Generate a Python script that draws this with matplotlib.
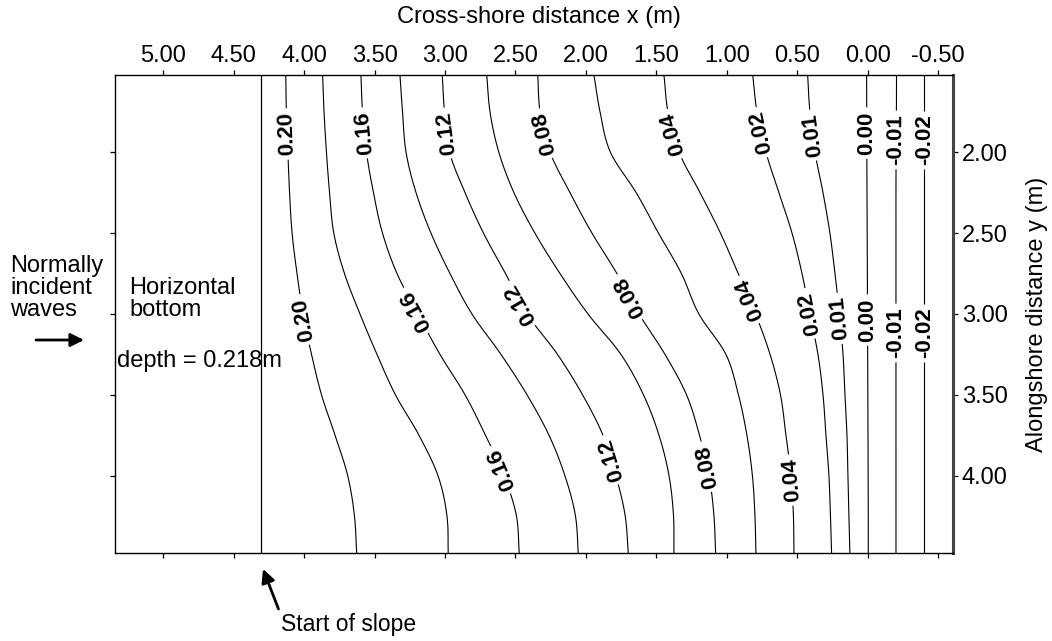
import numpy as np
import matplotlib.pyplot as plt

plt.rcParams["font.family"] = ["Liberation Sans", "DejaVu Sans"]
plt.rcParams["contour.negative_linestyle"] = "solid"

W, H = 1052, 641

# alongshore rows (m) at which the contour crossings were taken
Y_ROWS = [1.524, 1.75, 2.00, 2.25, 2.50, 2.75, 3.00, 3.25, 3.50, 3.75, 4.00, 4.25, 4.48]

# cross-shore position (m) of each depth contour on those rows
X_D020 = [4.131, 4.127, 4.116, 4.104, 4.086, 4.051, 4.008, 3.948, 3.877, 3.781, 3.691, 3.643, 3.627]
X_D018 = [3.869, 3.859, 3.842, 3.820, 3.790, 3.714, 3.604, 3.483, 3.352, 3.185, 3.050, 2.986, 2.977]
X_D016 = [3.597, 3.586, 3.558, 3.508, 3.444, 3.341, 3.192, 3.036, 2.858, 2.713, 2.582, 2.493, 2.473]
X_D014 = [3.320, 3.302, 3.277, 3.206, 3.100, 2.965, 2.809, 2.603, 2.418, 2.262, 2.149, 2.074, 2.054]
X_D012 = [3.020, 3.004, 2.968, 2.858, 2.727, 2.571, 2.418, 2.202, 2.024, 1.879, 1.787, 1.721, 1.699]
X_D010 = [2.704, 2.681, 2.618, 2.511, 2.362, 2.184, 1.985, 1.751, 1.591, 1.481, 1.410, 1.378, 1.375]
X_D008 = [2.342, 2.326, 2.255, 2.113, 1.957, 1.780, 1.623, 1.439, 1.286, 1.194, 1.126, 1.091, 1.079]
X_D006 = [1.943, 1.900, 1.826, 1.643, 1.485, 1.322, 1.198, 1.006, 0.917, 0.857, 0.818, 0.800, 0.793]
X_D004 = [1.446, 1.418, 1.339, 1.190, 1.045, 0.919, 0.796, 0.693, 0.619, 0.580, 0.544, 0.527, 0.523]
X_D002 = [0.816, 0.786, 0.722, 0.630, 0.537, 0.466, 0.410, 0.353, 0.317, 0.296, 0.275, 0.264, 0.256]
X_D001 = [0.426, 0.410, 0.374, 0.317, 0.268, 0.232, 0.200, 0.175, 0.161, 0.147, 0.140, 0.133, 0.126]
X_D000 = [0.007, 0.006, 0.005, 0.004, 0.003, 0.002, 0.001, 0.000, -0.001, -0.002, -0.003, -0.004, -0.004]
X_DM01 = [-0.205, -0.204, -0.202, -0.201, -0.201, -0.201, -0.201, -0.201, -0.201, -0.201, -0.201, -0.201, -0.201]
X_DM02 = [-0.402, -0.402, -0.402, -0.402, -0.402, -0.402, -0.402, -0.402, -0.402, -0.402, -0.402, -0.402, -0.402]

LEVELS = [0.20, 0.18, 0.16, 0.14, 0.12, 0.10, 0.08, 0.06, 0.04, 0.02, 0.01, 0.00, -0.01, -0.02]
LABELLED = [0.20, 0.16, 0.12, 0.08, 0.04, 0.02, 0.01, 0.00, -0.01, -0.02]

# where the inline labels sit (x, y)
LABEL_POS = [
    (4.124, 1.887), (4.018, 3.037),
    (3.580, 1.881), (3.201, 2.975), (2.610, 3.965),
    (2.977, 1.881), (2.456, 2.934), (1.829, 3.903),
    (2.279, 1.881), (1.687, 2.893), (1.143, 3.944),
    (1.356, 1.881), (0.848, 2.913), (0.528, 4.026),
    (0.741, 1.874), (0.410, 2.996),
    (0.386, 1.893), (0.197, 3.027),
    (0.003, 1.881), (-0.002, 3.037),
    (-0.201, 1.924), (-0.201, 3.117),
    (-0.402, 1.924), (-0.402, 3.117),
]

FLAT_DEPTH = 0.218
SLOPE_START = 4.31
SHORE_EDGE_DEPTH = -0.03
X_MIN, X_MAX = -0.608, 5.343
Y_TOP, Y_BOTTOM = 1.524, 4.48

X_TICKS = [5.0, 4.5, 4.0, 3.5, 3.0, 2.5, 2.0, 1.5, 1.0, 0.5, 0.0, -0.5]
X_TICK_LABELS = ["5.00", "4.50", "4.00", "3.50", "3.00", "2.50", "2.00",
                 "1.50", "1.00", "0.50", "0.00", "-0.50"]
Y_TICKS = [2.0, 2.5, 3.0, 3.5, 4.0]
Y_TICK_LABELS = ["2.00", "2.50", "3.00", "3.50", "4.00"]

FONT = 17


def fx(px):
    return px / W


def fy(py):
    return 1 - py / H


def hermite(ys, xs, yf):
    # smooth cubic through the crossings so the contours don't kink at each row
    ys = np.asarray(ys)
    xs = np.asarray(xs)
    m = np.gradient(xs, ys)
    i = np.clip(np.searchsorted(ys, yf) - 1, 0, len(ys) - 2)
    h = ys[i + 1] - ys[i]
    t = (yf - ys[i]) / h
    h00 = 2 * t**3 - 3 * t**2 + 1
    h10 = t**3 - 2 * t**2 + t
    h01 = -2 * t**3 + 3 * t**2
    h11 = t**3 - t**2
    return h00 * xs[i] + h10 * h * m[i] + h01 * xs[i + 1] + h11 * h * m[i + 1]


def build_depth_grid(xg, yg):
    level_x = [X_D020, X_D018, X_D016, X_D014, X_D012, X_D010, X_D008,
               X_D006, X_D004, X_D002, X_D001, X_D000, X_DM01, X_DM02]
    cols = [hermite(Y_ROWS, col, yg) for col in level_x]
    rows = []
    for j in range(len(yg)):
        xs = [X_MIN] + [c[j] for c in reversed(cols)] + [SLOPE_START, X_MAX]
        hs = [SHORE_EDGE_DEPTH] + list(reversed(LEVELS)) + [FLAT_DEPTH, FLAT_DEPTH]
        rows.append(np.interp(xg, xs, hs))
    return np.array(rows)


def main():
    fig = plt.figure(figsize=(W / 100, H / 100), dpi=100)
    ax = fig.add_axes([fx(115), fy(553.3), fx(953.3 - 115), (553.3 - 75.3) / H])

    xg = np.linspace(X_MIN, X_MAX, 900)
    yg = np.linspace(Y_TOP, Y_BOTTOM, 300)
    depth = build_depth_grid(xg, yg)

    ax.set_xlim(X_MAX, X_MIN)
    ax.set_ylim(Y_BOTTOM, Y_TOP)

    plain = sorted(lev for lev in LEVELS if lev not in LABELLED)
    ax.contour(xg, yg, depth, levels=plain, colors="k", linewidths=0.8)
    cs = ax.contour(xg, yg, depth, levels=sorted(LABELLED),
                    colors="k", linewidths=0.8)
    ax.axvline(SLOPE_START, color="k", lw=0.9)

    with plt.rc_context({"font.weight": "bold"}):
        labels = ax.clabel(cs, manual=LABEL_POS, inline=True,
                           inline_spacing=4, fmt="%.2f", fontsize=16,
                           colors="k")
    # labels read along the line towards the top of the plot
    for t in labels:
        t.set_rotation(t.get_rotation() % 180)

    ax.set_xticks(X_TICKS)
    ax.set_xticklabels(X_TICK_LABELS)
    ax.set_yticks(Y_TICKS)
    ax.set_yticklabels(Y_TICK_LABELS)
    ax.tick_params(axis="x", top=True, labeltop=True, bottom=True,
                   labelbottom=False, direction="out", length=3.6, width=0.9,
                   pad=2.5, labelsize=FONT)
    ax.tick_params(axis="y", left=True, labelleft=False, right=True,
                   labelright=True, direction="out", length=3.6, width=0.9,
                   pad=2.5, labelsize=FONT)
    for side in ["left", "top", "bottom"]:
        ax.spines[side].set_linewidth(1.0)
    ax.spines["right"].set_linewidth(2.2)
    ax.spines["right"].set_color("#444444")

    fig.text(fx(539), fy(17.5), "Cross-shore distance x (m)",
             ha="center", va="center", fontsize=FONT)
    fig.text(fx(1037), fy(314), "Alongshore distance y (m)",
             ha="center", va="center", rotation=90, fontsize=FONT)

    fig.text(fx(10), fy(288), "Normally\nincident\nwaves",
             ha="left", va="center", fontsize=FONT, linespacing=1.02)
    fig.text(fx(129), fy(299), "Horizontal\nbottom",
             ha="left", va="center", fontsize=FONT, linespacing=1.02)
    fig.text(fx(117), fy(361), "depth = 0.218m",
             ha="left", va="center", fontsize=FONT)
    fig.text(fx(281), fy(625), "Start of slope",
             ha="left", va="center", fontsize=16.5)

    arrow = dict(arrowstyle="-|>", color="k", lw=2.0, mutation_scale=20,
                 shrinkA=0, shrinkB=0)
    ax.annotate("", xy=(fx(84), fy(340)), xycoords="figure fraction",
                xytext=(fx(36), fy(340)), textcoords="figure fraction",
                arrowprops=arrow, annotation_clip=False)
    ax.annotate("", xy=(fx(263), fy(569)), xycoords="figure fraction",
                xytext=(fx(278.5), fy(609)), textcoords="figure fraction",
                arrowprops=arrow, annotation_clip=False)

    fig.savefig("out.png", dpi=100)


if __name__ == "__main__":
    main()
